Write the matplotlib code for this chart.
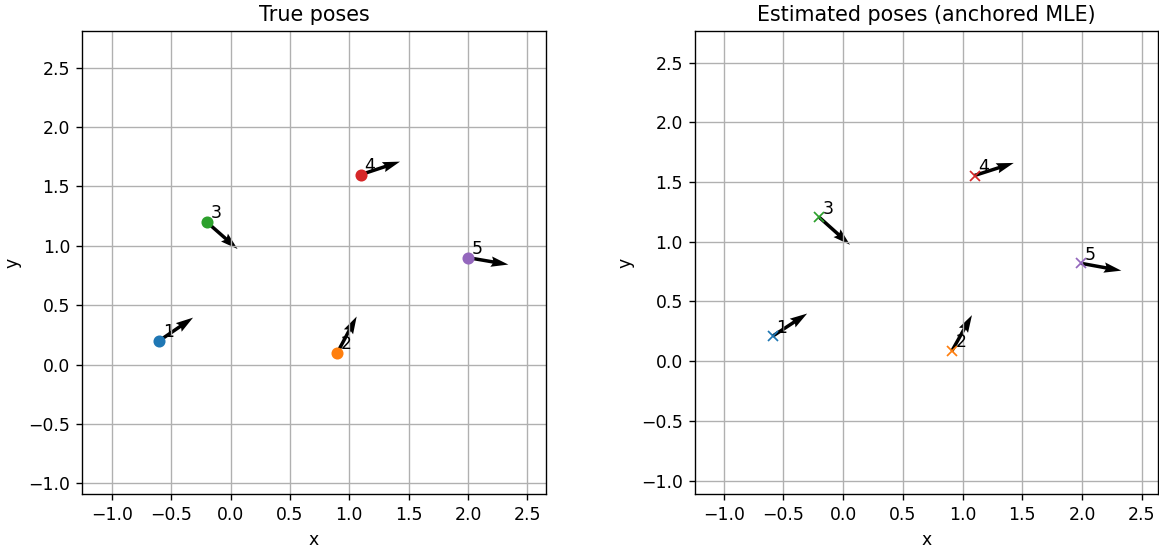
import matplotlib
matplotlib.use("Agg")
import matplotlib.pyplot as plt
import numpy as np

# true poses (x, y, theta)
true_x = [-0.6, 0.9, -0.2, 1.1, 2.0]
true_y = [0.2, 0.1, 1.2, 1.6, 0.9]
true_th = [0.6, 1.08, -0.72, 0.32, -0.17]

# estimated poses (anchored MLE)
est_x = [-0.59, 0.91, -0.2, 1.1, 1.99]
est_y = [0.21, 0.085, 1.205, 1.555, 0.82]
est_th = [0.58, 1.06, -0.73, 0.31, -0.18]

labels = ["1", "2", "3", "4", "5"]
arrow_len = 0.345

DPI = 124
fig = plt.figure(figsize=(1159 / DPI, 550 / DPI), dpi=DPI)
ax1 = fig.add_axes([0.0708, 0.1013, 0.4001, 0.8424])
ax2 = fig.add_axes([0.5997, 0.1013, 0.3995, 0.8424])


def draw(ax, xs, ys, ths, marker, title, xlim, ylim):
    for i in range(len(xs)):
        ax.plot(xs[i], ys[i], marker)
        ax.text(xs[i] + 0.03, ys[i] + 0.03, labels[i])
    u = arrow_len * np.cos(ths)
    v = arrow_len * np.sin(ths)
    ax.quiver(xs, ys, u, v, angles='xy', scale_units='xy', scale=1, color='black')
    ax.set_xlim(*xlim)
    ax.set_ylim(*ylim)
    ax.set_aspect('equal', adjustable='box')
    ax.set_xticks(np.arange(-1.0, 2.6, 0.5))
    ax.set_yticks(np.arange(-1.0, 2.6, 0.5))
    ax.grid(True)
    ax.set_xlabel("x")
    ax.set_ylabel("y")
    ax.set_title(title)


draw(ax1, true_x, true_y, true_th, 'o', "True poses", (-1.25, 2.655), (-1.093, 2.809))
draw(ax2, est_x, est_y, est_th, 'x', "Estimated poses (anchored MLE)", (-1.24, 2.637), (-1.114, 2.765))

fig.savefig("out.png", dpi=DPI)
